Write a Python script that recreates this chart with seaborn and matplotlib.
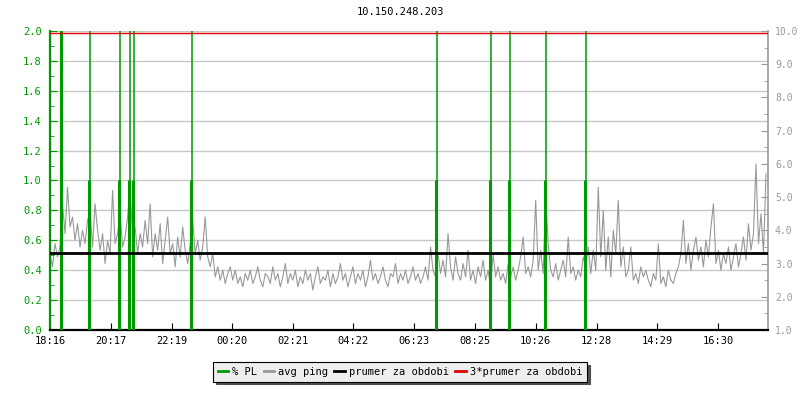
import numpy as np
import pandas as pd
import seaborn as sns
import matplotlib.pyplot as plt
import matplotlib.transforms as mtransforms
from matplotlib.lines import Line2D
from matplotlib.ticker import MultipleLocator, FormatStrFormatter

plt.rcParams['font.family'] = ['DejaVu Sans Mono']
plt.rcParams['font.size'] = 7

GREEN = "#009900"
GREY = "#999999"
RED = "#e00000"

title = "10.150.248.203"
tick_minutes = [0, 121, 243, 364, 485, 606, 727, 849, 970, 1092, 1213, 1334]
tick_labels = ["18:16", "20:17", "22:19", "00:20", "02:21", "04:22",
               "06:23", "08:25", "10:26", "12:28", "14:29", "16:30"]

# avg ping (ms), one sample every 5 minutes from 18:16
ping_ms = [
    3.3, 2.9, 3.6, 3.2, 3.5, 4.8, 3.9, 5.3, 4.1, 4.4,
    3.7, 4.2, 3.5, 4.0, 3.6, 4.3, 4.6, 3.5, 4.8, 4.0,
    3.4, 3.9, 3.0, 3.7, 3.3, 5.2, 3.6, 3.9, 4.5, 3.5,
    3.8, 4.4, 5.4, 3.7, 4.1, 3.3, 3.9, 3.5, 4.3, 3.6,
    4.8, 3.2, 3.9, 3.4, 4.2, 3.0, 3.7, 4.4, 3.3, 3.6,
    2.9, 3.8, 3.2, 4.1, 3.4, 3.0, 3.6, 4.3, 3.3, 3.7,
    3.1, 3.5, 4.4, 3.2, 2.9, 3.3, 2.6, 2.9, 2.5, 2.8,
    2.4, 2.7, 2.9, 2.5, 2.8, 2.4, 2.6, 2.3, 2.7, 2.5,
    2.8, 2.4, 2.6, 2.9, 2.5, 2.3, 2.7, 2.6, 2.4, 2.9,
    2.5, 2.7, 2.3, 2.6, 3.0, 2.4, 2.7, 2.5, 2.8, 2.3,
    2.6, 2.4, 2.8, 2.5, 2.7, 2.2, 2.6, 2.9, 2.4, 2.6,
    2.5, 2.8, 2.3, 2.7, 2.4, 2.6, 3.0, 2.5, 2.7, 2.3,
    2.6, 2.9, 2.4, 2.7, 2.5, 2.8, 2.3, 2.6, 3.1, 2.5,
    2.7, 2.4, 2.6, 2.9, 2.5, 2.3, 2.7, 2.6, 3.0, 2.4,
    2.7, 2.5, 2.8, 2.4, 2.6, 2.9, 2.5, 2.7, 2.4, 2.6,
    2.9, 2.5, 3.5, 2.8, 2.6, 3.3, 2.7, 3.1, 2.6, 3.9,
    2.9, 2.5, 3.2, 2.7, 2.5, 3.0, 2.6, 3.4, 2.5, 2.8,
    2.4, 2.9, 2.6, 3.1, 2.5, 2.8, 2.3, 3.3, 2.6, 2.9,
    2.5, 2.7, 2.4, 3.0, 2.6, 2.9, 2.5, 2.8, 3.2, 3.8,
    2.7, 2.9, 2.6, 3.1, 4.9, 2.8, 3.4, 2.7, 5.0, 3.6,
    2.8, 2.6, 3.0, 2.5, 2.8, 3.1, 2.6, 3.8, 2.7, 2.9,
    2.5, 2.8, 2.6, 3.2, 2.9, 3.5, 2.7, 3.4, 2.8, 5.3,
    3.2, 4.6, 2.8, 3.8, 2.6, 4.0, 3.3, 4.9, 2.9, 3.5,
    2.6, 2.8, 3.5, 2.5, 2.7, 2.4, 2.9, 2.6, 2.8, 2.5,
    2.3, 2.7, 2.5, 3.6, 2.4, 2.6, 2.3, 2.8, 2.5, 2.4,
    2.7, 2.9, 3.3, 4.3, 3.0, 3.6, 2.8, 3.4, 3.8, 3.1,
    3.5, 2.9, 3.7, 3.2, 4.1, 4.8, 3.0, 3.4, 2.8, 3.3,
    3.0, 3.5, 2.8, 3.2, 3.6, 2.9, 3.3, 3.8, 3.1, 4.2,
    3.4, 3.9, 6.0, 3.6, 4.5, 3.3, 5.7,
]
ping_mean = 3.31

# packet loss events (minutes from start, %)
pl_minutes = [24, 80, 139, 160, 168, 284, 772, 880, 918, 990, 1070]
pl_base = [2.5, 1.0, 1.0, 1.0, 1.0, 1.0, 1.0, 1.0, 1.0, 1.0, 1.0]
pl_peak = [3.0, 2.5, 2.5, 2.5, 2.5, 2.5, 2.5, 2.5, 2.5, 2.5, 2.5]

df = pd.DataFrame({"minute": np.arange(len(ping_ms)) * 5, "ping": ping_ms})

fig = plt.figure(figsize=(8, 4), dpi=100)
ax = fig.add_axes([50 / 800, 70 / 400, 718 / 800, 299 / 400])
ax2 = ax.twinx()
ax.set_zorder(2)
ax2.set_zorder(1)
ax.patch.set_visible(False)

ax.set_xlim(0, 1434)
ax.set_ylim(0, 2.0)
ax2.set_ylim(1.0, 10.0)

# grid (left scale) drawn under the ping line
grid_tf = mtransforms.blended_transform_factory(ax2.transAxes, ax.transData)
ax2.hlines(np.arange(0.2, 2.01, 0.2), 0, 1, transform=grid_tf,
           color="#c8c8c8", lw=1, zorder=0)

sns.lineplot(data=df, x="minute", y="ping", ax=ax2, color=GREY, lw=0.8,
             estimator=None, legend=False, zorder=2)

# packet loss
ax.vlines([m - 1.5 for m in pl_minutes], 0, pl_base, color=GREEN, lw=2.2, zorder=3)
ax.vlines(pl_minutes, 0, pl_peak, color=GREEN, lw=1.1, zorder=3)

mean_tf = mtransforms.blended_transform_factory(ax.transAxes, ax2.transData)
ax.plot([0, 1], [ping_mean, ping_mean], transform=mean_tf, color="black", lw=2, zorder=4)
ax.plot([0, 1], [3 * ping_mean, 3 * ping_mean], transform=mean_tf, color=RED, lw=1, zorder=5)

# axes styling
for s in ["top", "right"]:
    ax.spines[s].set_visible(False)
for s in ["top", "left", "bottom"]:
    ax2.spines[s].set_visible(False)
ax.spines["left"].set_color(GREEN)
ax.spines["left"].set_linewidth(1.6)
ax.spines["bottom"].set_color("black")
ax.spines["bottom"].set_linewidth(1.6)
ax2.spines["right"].set_color(GREY)
ax2.spines["right"].set_linewidth(1.2)

ax.set_xticks(tick_minutes)
ax.set_xticklabels(tick_labels)
ax.tick_params(axis="x", direction="in", length=5, color="black", pad=4, labelsize=7.5)
ax.yaxis.set_major_locator(MultipleLocator(0.2))
ax.yaxis.set_minor_locator(MultipleLocator(0.1))
ax.yaxis.set_major_formatter(FormatStrFormatter("%.1f"))
ax.tick_params(axis="y", which="both", direction="in", color=GREEN,
               labelcolor=GREEN, pad=6, labelsize=7.5)
ax.tick_params(axis="y", which="major", length=5)
ax.tick_params(axis="y", which="minor", length=3)

ax2.yaxis.set_major_locator(MultipleLocator(1.0))
ax2.yaxis.set_minor_locator(MultipleLocator(0.5))
ax2.yaxis.set_major_formatter(FormatStrFormatter("%.1f"))
ax2.tick_params(axis="y", which="both", direction="in", color=GREY,
                labelcolor=GREY, pad=5, labelsize=7)
ax2.tick_params(axis="y", which="major", length=5)
ax2.tick_params(axis="y", which="minor", length=3)
ax.set_xlabel("")
ax.set_ylabel("")
ax2.set_xlabel("")
ax2.set_ylabel("")

fig.text(0.5, 1 - 12 / 400, title, ha="center", va="center", fontsize=7.5)

handles = [
    Line2D([], [], color=GREEN, lw=2),
    Line2D([], [], color=GREY, lw=2),
    Line2D([], [], color="black", lw=2),
    Line2D([], [], color=RED, lw=2),
]
labels = ["% PL", "avg ping", "prumer za obdobi", "3*prumer za obdobi"]
leg = fig.legend(handles, labels, loc="center", bbox_to_anchor=(0.5, 1 - 372 / 400),
                 ncol=4, frameon=True, fancybox=False, shadow={"color": "#505050", "alpha": 1},
                 handlelength=1.0, handletextpad=0.4, columnspacing=0.6,
                 borderpad=0.45, fontsize=7.5)
leg.get_frame().set_facecolor("#eeeeee")
leg.get_frame().set_edgecolor("black")
leg.get_frame().set_linewidth(0.8)

fig.savefig("out.png", dpi=100)
